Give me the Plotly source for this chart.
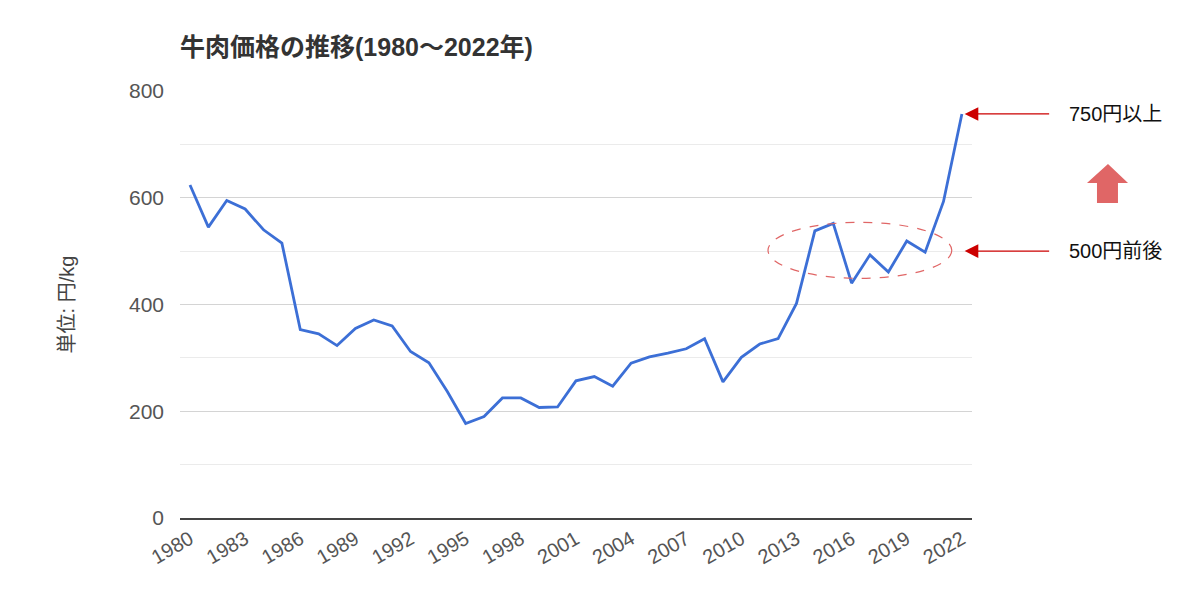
import plotly.graph_objects as go

# beef price per kg, 1980-2022
years = list(range(1980, 2023))
prices = [
    624, 545, 595, 579, 540, 515, 353, 345, 323, 355,
    371, 360, 312, 291, 237, 177, 190, 225, 225, 207,
    208, 257, 265, 247, 290, 302, 309, 317, 336, 255,
    301, 326, 336, 402, 538, 552, 440, 493, 461, 519,
    498, 593, 757,
]
tick_years = list(range(1980, 2023, 3))

title_text = "牛肉価格の推移(1980〜2022年)"
y_title = "単位: 円/kg"
note_high = "750円以上"
note_mid = "500円前後"

FONT = "Liberation Sans, Noto Sans CJK JP, sans-serif"
RED = "#cc0000"
PINK = "#e06666"

fig = go.Figure()
fig.add_trace(go.Scatter(
    x=years,
    y=prices,
    mode="lines",
    line=dict(color="#3c6fd6", width=2.8),
    showlegend=False,
    hoverinfo="x+y",
))

# dashed ellipse around the 2014-2020 plateau
fig.add_shape(
    type="circle", xref="x", yref="y",
    x0=2011.45, x1=2021.45, y0=449, y1=554,
    line=dict(color=PINK, width=1.2, dash="dash"),
)

# big up arrow on the right (paper coords relative to the plot area)
fig.add_shape(
    type="path", xref="paper", yref="paper",
    path="M 1.1717,0.8290 L 1.1970,0.7845 L 1.1843,0.7845 L 1.1843,0.7377 "
         "L 1.1578,0.7377 L 1.1578,0.7845 L 1.1452,0.7845 Z",
    fillcolor=PINK, line=dict(width=0),
)

# red pointer arrows
for yv in (prices[-1], 500):
    fig.add_annotation(
        x=2022.15, y=yv, xref="x", yref="y",
        ax=86, ay=0, axref="pixel", ayref="pixel",
        text="", showarrow=True,
        arrowhead=2, arrowsize=2.1, arrowwidth=1.3, arrowcolor=RED,
    )

for label, yv in ((note_high, prices[-1]), (note_mid, 500)):
    fig.add_annotation(
        x=1.12, y=yv, xref="paper", yref="y",
        text=label, showarrow=False, xanchor="left", yanchor="middle",
        font=dict(family=FONT, size=20, color="#111"),
    )

fig.update_layout(
    width=1200,
    height=601,
    margin=dict(l=172, r=236, t=83, b=91),
    paper_bgcolor="white",
    plot_bgcolor="white",
    font=dict(family=FONT, size=20, color="#555"),
    title=dict(
        text="<b>" + title_text + "</b>",
        x=0, xref="paper", xanchor="left",
        y=1 - 39 / 601, yref="container", yanchor="middle",
        font=dict(family=FONT, size=25, color="#333"),
    ),
    xaxis=dict(
        range=[1979.456, 2022.55],
        tickvals=tick_years,
        tickangle=-30,
        showgrid=False,
        zeroline=False,
        showline=True,
        linecolor="#444",
        linewidth=1.5,
        tickfont=dict(size=20, color="#555"),
    ),
    yaxis=dict(
        range=[0, 800],
        dtick=200,
        showgrid=True,
        gridcolor="#d4d4d4",
        gridwidth=1,
        minor=dict(dtick=100, showgrid=True, gridcolor="#ebebeb", gridwidth=1),
        zeroline=False,
        ticklabelstandoff=15,
        tickfont=dict(size=21, color="#555"),
        title=dict(text=y_title, standoff=48, font=dict(family=FONT, size=20, color="#444")),
    ),
)

fig.write_html("out.html")
